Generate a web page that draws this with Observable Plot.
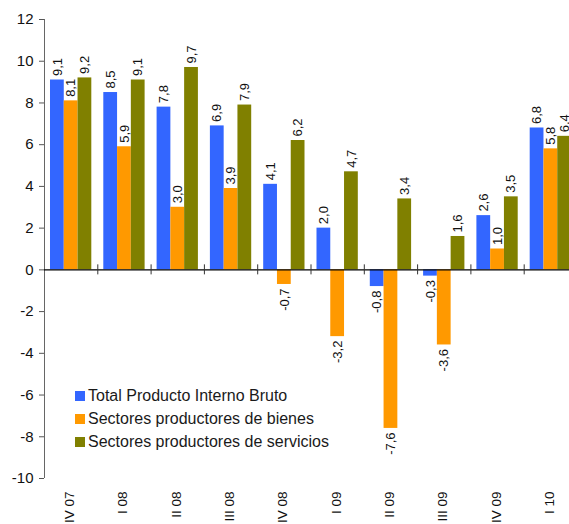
<!DOCTYPE html>
<html>
<head>
<meta charset="utf-8">
<script src="https://cdn.jsdelivr.net/npm/d3@7"></script>
<script src="https://cdn.jsdelivr.net/npm/@observablehq/plot@0.6"></script>
<style>
  body { margin: 0; background: #fff; font-family: "Liberation Sans", Arial, sans-serif; }
  #wrap { position: relative; width: 569px; height: 524px; overflow: hidden; }
  #wrap svg g[aria-label^="y-axis"] line,
  #wrap svg g[aria-label^="y-axis"] path { stroke: #555; }
  #legend { position: absolute; left: 75px; top: 384.5px; font-size: 16px; color: #1a1a1a; }
  .row { display: flex; align-items: center; height: 23px; }
  .sw { width: 10px; height: 10px; margin-right: 3px; flex: none; }
</style>
</head>
<body>
<div id="wrap"><div id="legend"></div></div>
<script>
// Quarterly growth, % change on the same quarter of the previous year
const quarters = ["IV 07", "I 08", "II 08", "III 08", "IV 08", "I 09", "II 09", "III 09", "IV 09", "I 10"];
const seriesNames = [
  "Total Producto Interno Bruto",
  "Sectores productores de bienes",
  "Sectores productores de servicios"
];
const pib       = [9.1, 8.5, 7.8, 6.9, 4.1, 2.0, -0.8, -0.3, 2.6, 6.8];
const bienes    = [8.1, 5.9, 3.0, 3.9, -0.7, -3.2, -7.6, -3.6, 1.0, 5.8];
const servicios = [9.2, 9.1, 9.7, 7.9, 6.2, 4.7, 3.4, 1.6, 3.5, 6.4];
const colors = ["#3366ff", "#ff9900", "#808000"];
const yTicks = d3.range(-10, 13, 2);

// Each quarter occupies one unit on x; the three bars sit side by side inside it.
const groupPad = 0.1125;
const barW = (1 - 2 * groupPad) / 3;
const allSeries = [pib, bienes, servicios];
const rows = [];
quarters.forEach((q, i) => {
  allSeries.forEach((vals, k) => {
    const x1 = i + groupPad + k * barW;
    rows.push({quarter: q, name: seriesNames[k], value: vals[i], x1, x2: x1 + barW});
  });
});
const fmt = (d) => d.value.toFixed(1).replace(".", ",");
const mid = (d) => (d.x1 + d.x2) / 2;

const chart = Plot.plot({
  width: 569,
  height: 524,
  marginLeft: 44,
  marginRight: 0,
  marginTop: 19,
  marginBottom: 46,
  style: {fontFamily: "Liberation Sans, Arial, sans-serif", fontSize: "14px", color: "#111", background: "#fff"},
  x: {domain: [0, quarters.length], range: [44, 577], axis: null},
  y: {domain: [-10, 12], ticks: yTicks, tickFormat: () => "", tickSize: 5, tickPadding: 0, label: null},
  color: {domain: seriesNames, range: colors},
  marks: [
    Plot.rect(rows, {x1: "x1", x2: "x2", y1: () => 0, y2: "value", fill: "name"}),
    // value axis line and tick labels
    Plot.ruleX([0], {y1: () => -10, y2: () => 12, stroke: "#666"}),
    Plot.text(yTicks, {
      x: () => 0, y: (d) => d, text: (d) => String(d), textAnchor: "end", dx: -11, fontSize: 15, fill: "#111"
    }),
    Plot.ruleY([0], {stroke: "#000", strokeWidth: 1.2}),
    Plot.ruleX(d3.range(1, quarters.length), {y1: () => -0.24, y2: () => 0.24, stroke: "#333"}),
    Plot.text(rows.filter((d) => d.value >= 0), {
      x: mid, y: "value", text: fmt, rotate: -90, textAnchor: "start", dy: -4, fontSize: 13, fill: "#111"
    }),
    Plot.text(rows.filter((d) => d.value < 0), {
      x: mid, y: "value", text: fmt, rotate: -90, textAnchor: "end", dy: 4, fontSize: 13, fill: "#111"
    }),
    Plot.text(quarters, {
      x: (d, i) => i + 0.5, frameAnchor: "bottom", text: (d) => d, rotate: -90, textAnchor: "end",
      dx: 3, dy: 13, fontSize: 13.5, fill: "#111"
    })
  ]
});
document.getElementById("wrap").prepend(chart);

const legend = document.getElementById("legend");
seriesNames.forEach((name, k) => {
  const row = document.createElement("div");
  row.className = "row";
  const sw = document.createElement("span");
  sw.className = "sw";
  sw.style.background = colors[k];
  const label = document.createElement("span");
  label.textContent = name;
  row.append(sw, label);
  legend.append(row);
});
</script>
</body>
</html>
